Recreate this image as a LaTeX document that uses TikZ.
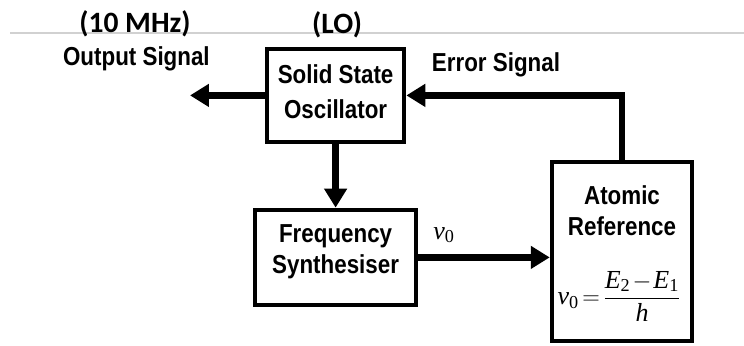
\documentclass[tikz,border=0pt]{standalone}
\usepackage{amsmath}
\usepackage[no-math]{fontspec}
\setmainfont{Liberation Sans}
\newfontfamily\calibri{Carlito}
\newfontfamily\narrowsans[FakeStretch=0.86]{Liberation Sans}
\newfontfamily\tms{Liberation Serif}
\newcommand\tmi[1]{\text{\tms\itshape #1}}
\newcommand\tmr[1]{\text{\tms #1}}
\newcommand\tightmath{\medmuskip=1.5mu\relax\thickmuskip=2.5mu\relax}
\usetikzlibrary{arrows.meta,positioning,calc}

\begin{document}
\begin{tikzpicture}[
    block/.style={draw, line width=3.2pt, inner sep=0pt},
    boxtext/.style={align=center, inner sep=0pt, font=\narrowsans\bfseries\fontsize{18.5}{22}\selectfont},
    flow/.style={line width=4.6pt, -{Triangle[length=13.5pt,width=15.6pt]}},
    lbl/.style={font=\narrowsans\bfseries\fontsize{18.5}{20}\selectfont},
    eqn/.style={font=\fontsize{18.5}{20}\selectfont}]
    \useasboundingbox (0,0) rectangle (18.6,8.625);

    % faint rule under the headings
    \draw[black!18, line width=0.8pt] (0.25,7.8) -- (18.6,7.8);

    % Headings
    \node[font=\calibri\bfseries\fontsize{21}{22}\selectfont] (mhz) at (3.375,8.03) {(10 MHz)};
    \node[font=\calibri\bfseries\fontsize{21}{22}\selectfont] (lo) at (8.425,8.0) {(LO)};
    \node[lbl] (outlbl) at (3.41,7.15) {Output Signal};
    \node[lbl] (errlbl) at (12.4,7.0) {Error Signal};

    % Blocks
    \node[block, minimum width=3.425cm, minimum height=2.325cm] (sso) at (8.39,6.24) {};
    \node[boxtext, font=\narrowsans\bfseries\fontsize{18.5}{25}\selectfont] (ssotxt) at (8.39,6.33) {Solid State\\Oscillator};
    \node[block, minimum width=4.025cm, minimum height=2.375cm] (fs) at (8.39,2.19) {};
    \node[boxtext] (fstxt) at (8.39,2.34) {Frequency\\Synthesiser};
    \node[block, minimum width=3.5cm, minimum height=4.475cm] (atom) at (15.55,2.34) {};
    \node[boxtext] (atomtxt) at (15.55,3.36) {Atomic\\Reference};
    \node[eqn] (eq) at (15.48,1.22)
        {$\tightmath\tmi{ν}_{\tmr{0}}=\dfrac{\tmi{E}_{\tmr{2}}-\tmi{E}_{\tmr{1}}}{\tmi{h}}$};

    % Signal paths
    \coordinate (outtip) at (4.75,6.24);
    \draw[flow] (sso.west) -- (outtip);
    \draw[flow] (sso.south) -- (fs.north);
    \draw[flow] (fs.east) -- (fs.east -| atom.west);
    \draw[flow] (atom.north) |- (sso.east);

    \node[eqn] (nu) at (11.1,2.75) {$\tmi{ν}_{\tmr{0}}$};
\end{tikzpicture}
\end{document}
